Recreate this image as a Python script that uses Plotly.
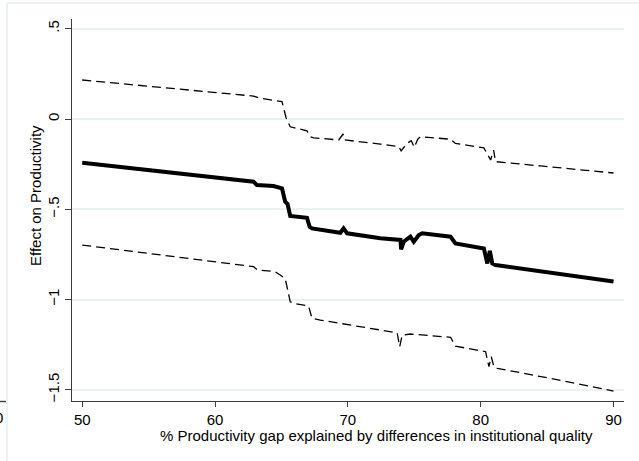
import plotly.graph_objects as go

# Point estimate of the effect on productivity
est_x = [50, 62.9, 63.15, 64.4, 65.04, 65.28, 65.46, 65.66, 66.92, 67.12, 67.3,
         69.43, 69.68, 69.94, 72.45, 73.96, 74.01, 74.2, 74.71, 74.96, 75.34,
         75.6, 77.73, 78.1, 80.24, 80.5, 80.69, 80.87, 81.12, 86.0, 90]
est_y = [-0.242, -0.347, -0.366, -0.371, -0.384, -0.458, -0.471, -0.537, -0.547,
         -0.597, -0.606, -0.630, -0.606, -0.633, -0.661, -0.670, -0.722, -0.680,
         -0.652, -0.680, -0.643, -0.633, -0.652, -0.689, -0.717, -0.800, -0.730,
         -0.800, -0.809, -0.859, -0.900]

# Upper confidence bound
upper_x = [50, 62.9, 63.4, 64.5, 65.04, 65.36, 65.66, 66.92, 67.17, 67.42, 69.31,
           69.64, 69.76, 72.45, 73.83, 74.01, 74.46, 74.77, 75.01, 75.26, 75.47,
           77.73, 78.1, 80.24, 80.52, 80.75, 80.97, 81.12, 84.5, 90]
upper_y = [0.216, 0.127, 0.115, 0.105, 0.096, 0.004, -0.043, -0.065, -0.098,
           -0.104, -0.116, -0.083, -0.116, -0.139, -0.153, -0.176, -0.135, -0.120,
           -0.157, -0.112, -0.098, -0.112, -0.135, -0.160, -0.199, -0.227, -0.172,
           -0.236, -0.260, -0.299]

# Lower confidence bound
lower_x = [50, 62.9, 63.2, 64.5, 64.9, 65.28, 65.66, 65.91, 67.04, 67.3, 67.93,
           73.71, 73.9, 74.09, 74.71, 77.73, 78.1, 79.86, 80.37, 80.62, 80.8,
           81.0, 81.25, 85.27, 90]
lower_y = [-0.698, -0.818, -0.836, -0.845, -0.864, -0.883, -1.012, -1.021, -1.036,
           -1.104, -1.114, -1.184, -1.261, -1.197, -1.191, -1.209, -1.258, -1.280,
           -1.289, -1.372, -1.317, -1.375, -1.381, -1.437, -1.507]

x_ticks = [50, 60, 70, 80, 90]
y_ticks = [0.5, 0, -0.5, -1, -1.5]
y_tick_text = [".5", "0", "\u2212.5", "\u22121", "\u22121.5"]

x_title = "% Productivity gap explained by differences in institutional quality"
y_title = "Effect on Productivity"

W, H = 639, 461
L, R, T, B = 72, 624, 19, 401   # plot area in pixels
FONT = "Liberation Sans"
FS = 15


def px(xp):
    return (xp - L) / (R - L)


def py(yp):
    return (B - yp) / (B - T)


fig = go.Figure()
fig.add_trace(go.Scatter(x=upper_x, y=upper_y, mode="lines",
                         line=dict(color="black", width=1.3, dash="9px,5px")))
fig.add_trace(go.Scatter(x=lower_x, y=lower_y, mode="lines",
                         line=dict(color="black", width=1.3, dash="9px,5px")))
fig.add_trace(go.Scatter(x=est_x, y=est_y, mode="lines",
                         line=dict(color="black", width=4)))

axis_col = "#3c3c3c"
grid_col = "#e9f1f3"

fig.update_layout(
    width=W, height=H,
    margin=dict(l=L, r=W - R, t=T, b=H - B, pad=0),
    paper_bgcolor="white", plot_bgcolor="white",
    showlegend=False,
    font=dict(family=FONT, size=FS, color="black"),
    xaxis=dict(range=[49.23, 90.79], tickvals=x_ticks, ticktext=[str(v) for v in x_ticks],
               showgrid=False, zeroline=False, showline=True, linecolor=axis_col,
               linewidth=1.4, ticks="outside", ticklen=5, tickwidth=1.2,
               tickcolor=axis_col, tickfont=dict(size=FS, family=FONT)),
    yaxis=dict(range=[-1.562, 0.554], tickvals=y_ticks, ticktext=y_tick_text,
               tickangle=-90, showgrid=True, gridcolor=grid_col, gridwidth=1.5,
               zeroline=False, showline=True, linecolor=axis_col, linewidth=1.4,
               ticks="outside", ticklen=6, tickwidth=1.2, tickcolor=axis_col,
               tickfont=dict(size=FS, family=FONT)),
)

annotations = [
    dict(text=x_title, x=px(376), y=py(436), xref="paper", yref="paper",
         xanchor="center", yanchor="middle", showarrow=False,
         font=dict(size=FS, family=FONT)),
    dict(text=y_title, x=px(35), y=py(196), xref="paper", yref="paper",
         xanchor="center", yanchor="middle", textangle=-90, showarrow=False,
         font=dict(size=FS, family=FONT)),
    # neighbouring panel's last x tick label
    dict(text="0", x=px(-1), y=py(417), xref="paper", yref="paper",
         xanchor="center", yanchor="middle", showarrow=False,
         font=dict(size=FS, family=FONT)),
]
fig.update_layout(annotations=annotations)

border_col = "#e6eef0"
shapes = [
    # outer region edges
    dict(type="line", xref="paper", yref="paper", x0=px(7), x1=px(W), y0=py(3), y1=py(3),
         line=dict(color=border_col, width=1.5)),
    dict(type="line", xref="paper", yref="paper", x0=px(7), x1=px(7), y0=py(3), y1=py(H),
         line=dict(color=border_col, width=1.5)),
    # neighbouring panel's x axis end
    dict(type="line", xref="paper", yref="paper", x0=px(0), x1=px(6), y0=py(401.5), y1=py(401.5),
         line=dict(color=axis_col, width=1.4)),
]
fig.update_layout(shapes=shapes)

fig.write_html("out.html")
